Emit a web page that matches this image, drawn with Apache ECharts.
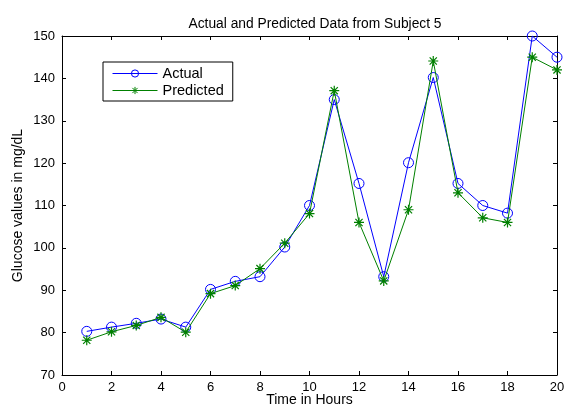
<!DOCTYPE html>
<html><head><meta charset="utf-8">
<script src="https://cdn.jsdelivr.net/npm/echarts@6/dist/echarts.min.js"></script>
<style>html,body{margin:0;padding:0;background:#fff}#c{width:565px;height:408px}</style>
</head><body><div id="c"></div>
<script>
const hours = [1,2,3,4,5,6,7,8,9,10,11,12,13,14,15,16,17,18,19,20];
const actual = [80.3,81.3,82.2,83.2,81.3,90.2,92.1,93.2,100.2,110,135,115.2,93.2,120.1,140.2,115.2,110,108.2,150,145];
const predicted = [78.2,80.2,81.7,83.6,80.1,89.2,91.1,95.1,101.1,108.1,137.1,106,92.2,109,144.1,113,107.1,106,145,142];
const xTicks = {min:0, max:20, interval:2};
const yTicks = {min:70, max:150, interval:10};

const font = 'Liberation Sans, Arial, sans-serif';
const star = 'path://M0,-5L0,5M-5,0L5,0M-3.6,-3.6L3.6,3.6M-3.6,3.6L3.6,-3.6';
const chart = echarts.init(document.getElementById('c'), null, {renderer:'canvas'});
const axisCommon = {
  axisLine:{show:true, onZero:false, lineStyle:{color:'#000', width:1}},
  axisTick:{show:true, inside:true, length:4, lineStyle:{color:'#000'}},
  splitLine:{show:false}
};
chart.setOption({
  animation:false,
  backgroundColor:'#fff',
  title:{text:'Actual and Predicted Data from Subject 5', left:310, top:12, textAlign:'center',
    textStyle:{fontFamily:font, fontSize:13.8, fontWeight:'normal', color:'#000'}},
  grid:{left:62, right:8, top:36, bottom:33, containLabel:false, outerBoundsMode:'none'},
  legend:{
    left:103, top:62, orient:'vertical', itemWidth:45, itemHeight:9, itemGap:2,
    padding:[4,9,3,9], borderColor:'#000', borderWidth:1, backgroundColor:'#fff',
    textStyle:{fontFamily:font, fontSize:14.5, color:'#000'},
    data:[
      {name:'Actual', lineStyle:{width:1}, itemStyle:{borderWidth:1}},
      {name:'Predicted', lineStyle:{width:1}, itemStyle:{borderWidth:1}}
    ]
  },
  xAxis:[
    Object.assign({type:'value', position:'bottom', min:xTicks.min, max:xTicks.max, interval:xTicks.interval,
      name:'Time in Hours', nameLocation:'middle', nameGap:18, nameMoveOverlap:false,
      nameTextStyle:{fontFamily:font, fontSize:14, color:'#000'},
      axisLabel:{fontFamily:font, fontSize:13, color:'#000', margin:6}}, axisCommon),
    Object.assign({type:'value', position:'top', min:xTicks.min, max:xTicks.max, interval:xTicks.interval,
      axisLabel:{show:false}}, axisCommon)
  ],
  yAxis:[
    Object.assign({type:'value', position:'left', min:yTicks.min, max:yTicks.max, interval:yTicks.interval,
      name:'Glucose values in mg/dL', nameLocation:'middle', nameGap:37, nameRotate:90, nameMoveOverlap:false,
      nameTextStyle:{fontFamily:font, fontSize:14, color:'#000'},
      axisLabel:{fontFamily:font, fontSize:13, color:'#000', margin:7}}, axisCommon),
    Object.assign({type:'value', position:'right', min:yTicks.min, max:yTicks.max, interval:yTicks.interval,
      axisLabel:{show:false}}, axisCommon)
  ],
  series:[
    {name:'Actual', type:'line', data:hours.map((h,i)=>[h,actual[i]]),
      symbol:'circle', symbolSize:10, showAllSymbol:true,
      lineStyle:{color:'#0000ff', width:1},
      itemStyle:{color:'rgba(255,255,255,0)', borderColor:'#0000ff', borderWidth:1}, z:2},
    {name:'Predicted', type:'line', data:hours.map((h,i)=>[h,predicted[i]]),
      symbol:star, symbolSize:10, showAllSymbol:true,
      lineStyle:{color:'#008000', width:1},
      itemStyle:{color:'#008000', borderColor:'#008000', borderWidth:1.2}, z:3}
  ]
});
</script></body></html>
